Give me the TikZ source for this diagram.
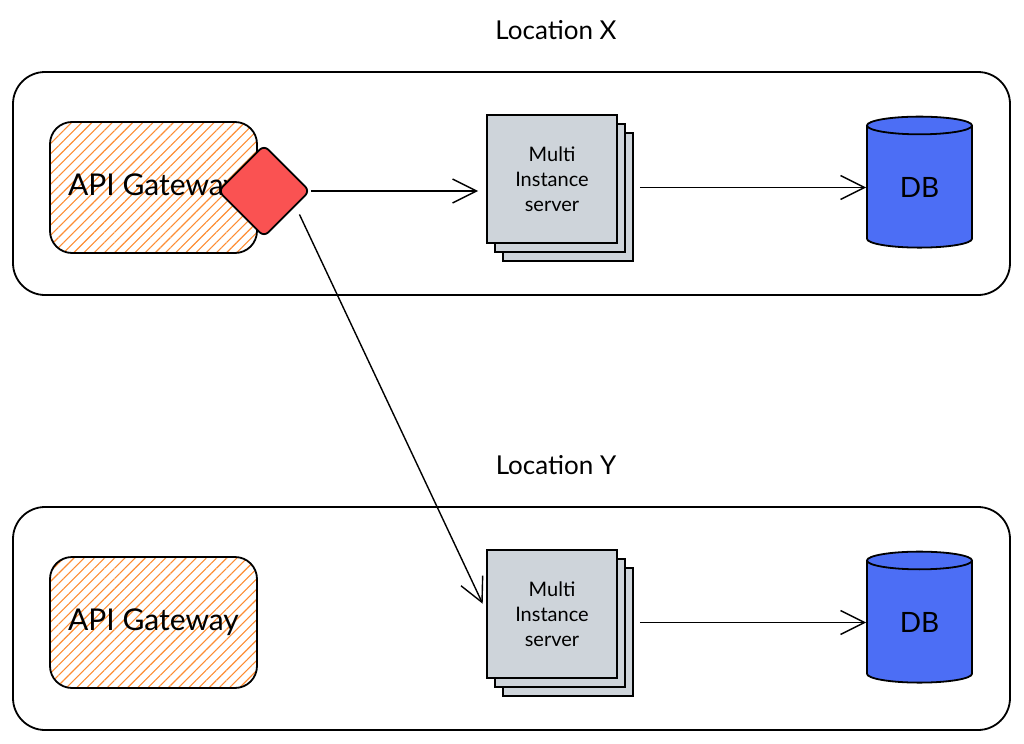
\documentclass[tikz,border=0pt]{standalone}
\usepackage{fontspec}
\setmainfont{Lato}
\usetikzlibrary{shapes.geometric,arrows.meta,positioning,patterns.meta,shadows}
\definecolor{hatchorange}{RGB}{253,140,50}
\definecolor{srvgray}{RGB}{206,212,218}
\definecolor{dbblue}{RGB}{76,110,245}
\definecolor{gatered}{RGB}{250,82,82}

\begin{document}
\begin{tikzpicture}[x=0.5pt, y=-0.5pt,
    title/.style={font=\fontsize{13}{15}\selectfont},
    zone/.style={draw, line width=0.9pt, rounded corners=16pt},
    gate/.style={rectangle, draw, line width=0.9pt, rounded corners=11pt, pattern={Lines[angle=45, distance=3.6pt, line width=0.55pt]}, pattern color=hatchorange, minimum width=103.5pt, minimum height=65.5pt, inner sep=0pt, font=\fontsize{15}{18}\selectfont},
    router/.style={diamond, draw, line width=0.9pt, fill=gatered, rounded corners=3pt, minimum size=46pt, inner sep=0pt},
    srv/.style={rectangle, draw, line width=0.9pt, fill=srvgray, minimum width=65pt, minimum height=64pt, inner sep=0pt, align=center, font=\fontsize{10}{12.5}\selectfont,
        double copy shadow={shadow xshift=4pt, shadow yshift=-4.5pt, fill=srvgray, draw=black, line width=0.9pt}},
    db/.style={cylinder, shape border rotate=90, aspect=0.45, draw, line width=0.9pt, fill=dbblue, minimum width=52.5pt, minimum height=65.5pt, inner sep=0pt, font=\fontsize{14}{16}\selectfont},
    flow/.style={line width=0.7pt, -{Straight Barb[length=12pt, width=12pt]}}
]
\useasboundingbox (0,0) rectangle (1024,744);

\foreach \loc/\dy in {X/0, Y/435} {
    \node[title] (Title\loc) at (556, 30+\dy) {Location \loc};
    \draw[zone] (13, 72+\dy) rectangle (1010, 295+\dy);
    \node[gate] (Gate\loc) at (153.5, 187.5+\dy) {API Gateway};
    \node[srv] (Srv\loc) at (552, 179+\dy) {Multi\\Instance\\server};
    \node[db] (Db\loc) at (919.5, 187+\dy) {DB};
    % server -> database
    \draw[flow, shorten <=11pt] (Srv\loc.east |- Gate\loc.east) -- (Db\loc.west |- Gate\loc.east);
}

\node[router] (DiamX) at (264, 191) {};

% gateway router -> servers
\draw[flow, shorten >=4pt] (DiamX.east) -- (SrvX.west |- DiamX.east);
\draw[flow, shorten >=4pt] ([xshift=6pt]DiamX.south east) -- ([yshift=1.5pt]SrvY.west);
\end{tikzpicture}
\end{document}
